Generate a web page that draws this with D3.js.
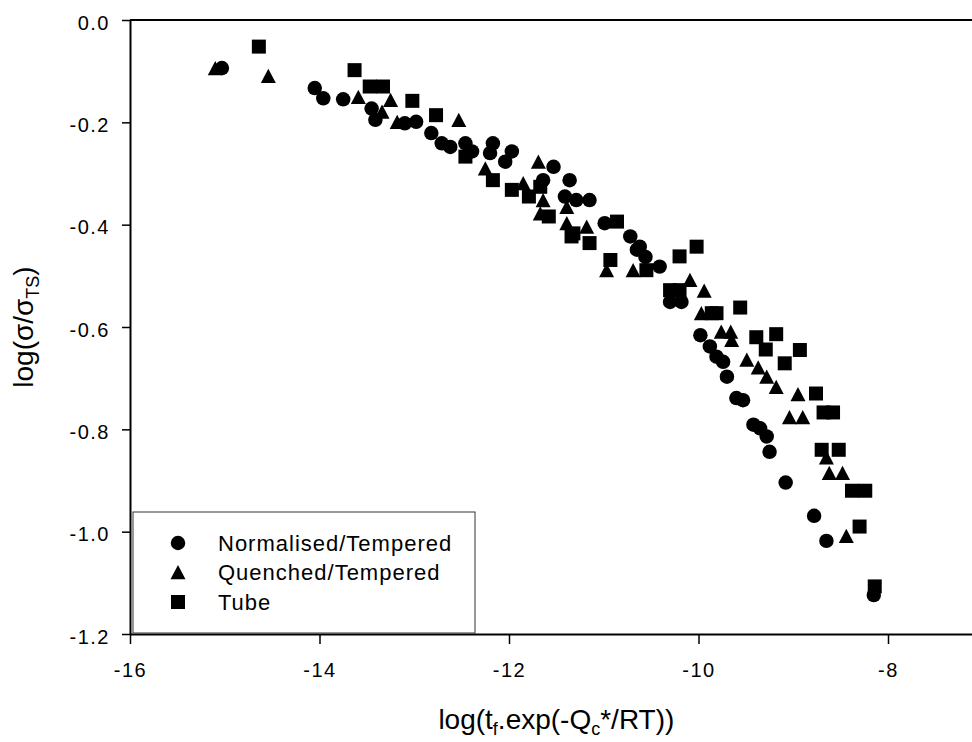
<!DOCTYPE html>
<html>
<head>
<meta charset="utf-8">
<script src="https://cdn.jsdelivr.net/npm/d3@7"></script>
<style>
  html, body { margin: 0; padding: 0; background: #fff; }
  svg { display: block; }
  text { font-family: Arial, "Liberation Sans", sans-serif; fill: #000; }
</style>
</head>
<body>
<svg id="chart" width="972" height="742"></svg>
<script>
// ---- data ----
const seriesNames = ["Normalised/Tempered", "Quenched/Tempered", "Tube"];

const normX = [-15.03,-14.05,-13.96,-13.75,-13.45,-13.41,-13.10,-12.98,-12.82,-12.71,-12.62,-12.46,-12.39,-12.17,-12.20,-11.97,-12.04,-11.53,-11.64,-11.36,-11.41,-11.29,-11.15,-10.99,-10.72,-10.65,-10.62,-10.56,-10.41,-10.30,-10.18,-9.98,-9.88,-9.81,-9.74,-9.70,-9.60,-9.53,-9.42,-9.35,-9.28,-9.25,-9.08,-8.78,-8.65,-8.15];
const normY = [-0.094,-0.133,-0.153,-0.155,-0.173,-0.195,-0.202,-0.199,-0.221,-0.241,-0.248,-0.241,-0.257,-0.241,-0.260,-0.257,-0.277,-0.287,-0.313,-0.313,-0.345,-0.352,-0.352,-0.397,-0.423,-0.449,-0.443,-0.463,-0.482,-0.551,-0.551,-0.616,-0.638,-0.658,-0.668,-0.697,-0.739,-0.743,-0.791,-0.798,-0.814,-0.844,-0.904,-0.969,-1.018,-1.124];

const quenX = [-15.10,-14.54,-13.59,-13.34,-13.25,-13.18,-12.53,-12.25,-11.69,-11.85,-11.64,-11.67,-11.39,-11.39,-11.18,-10.97,-10.69,-10.09,-9.94,-9.97,-9.76,-9.66,-9.65,-9.49,-9.37,-9.28,-9.18,-8.95,-9.04,-8.90,-8.65,-8.62,-8.48,-8.44];
const quenY = [-0.094,-0.109,-0.150,-0.179,-0.156,-0.199,-0.195,-0.290,-0.277,-0.319,-0.352,-0.378,-0.365,-0.397,-0.404,-0.489,-0.489,-0.508,-0.529,-0.573,-0.609,-0.609,-0.625,-0.664,-0.679,-0.697,-0.717,-0.731,-0.776,-0.776,-0.855,-0.885,-0.885,-1.008];

const tubeX = [-14.64,-13.63,-13.47,-13.33,-13.02,-12.77,-12.46,-12.17,-11.97,-11.79,-11.67,-11.58,-11.32,-11.34,-11.15,-10.86,-10.93,-10.55,-10.30,-10.20,-10.20,-10.02,-9.86,-9.81,-9.56,-9.39,-9.18,-9.29,-8.93,-9.09,-8.76,-8.68,-8.58,-8.70,-8.52,-8.38,-8.24,-8.30,-8.14];
const tubeY = [-0.052,-0.098,-0.130,-0.130,-0.158,-0.186,-0.267,-0.313,-0.332,-0.345,-0.326,-0.384,-0.417,-0.423,-0.436,-0.394,-0.469,-0.489,-0.528,-0.528,-0.462,-0.443,-0.573,-0.573,-0.562,-0.620,-0.614,-0.644,-0.645,-0.671,-0.730,-0.767,-0.767,-0.840,-0.840,-0.920,-0.920,-0.990,-1.107];

const xTicks = [-16, -14, -12, -10, -8];
const xTickLabels = ["-16", "-14", "-12", "-10", "-8"];
const yTicks = [0, -0.2, -0.4, -0.6, -0.8, -1.0, -1.2];
const yTickLabels = ["0.0", "-0.2", "-0.4", "-0.6", "-0.8", "-1.0", "-1.2"];

// ---- layout ----
const svg = d3.select("#chart");
const x = d3.scaleLinear().domain([-16, -7]).range([130, 982.75]);
const y = d3.scaleLinear().domain([-1.2, 0]).range([634, 20]);
const xEndVal = x.invert(972);

// top frame line
svg.append("line")
  .attr("x1", x(-16)).attr("x2", x(xEndVal))
  .attr("y1", y(0)).attr("y2", y(0))
  .attr("stroke", "#000").attr("stroke-width", 2);

// x axis
const xAxis = d3.axisBottom(d3.scaleLinear().domain([-16, xEndVal]).range([130, 972]))
  .tickValues(xTicks).tickFormat((d, i) => xTickLabels[i])
  .tickSizeInner(10).tickSizeOuter(0).tickPadding(19);
const gx = svg.append("g").attr("transform", `translate(0,${y(-1.2)})`).call(xAxis);
gx.select(".domain").attr("stroke", "#000").attr("stroke-width", 2);
gx.selectAll(".tick line").attr("stroke", "#000").attr("stroke-width", 1.5);
gx.selectAll(".tick text").attr("font-size", 20).attr("letter-spacing", "1.5px")
  .attr("font-family", 'Arial, "Liberation Sans", sans-serif').attr("fill", "#000");

// y axis
const yAxis = d3.axisLeft(y).tickValues(yTicks).tickFormat((d, i) => yTickLabels[i])
  .tickSizeInner(8).tickSizeOuter(0).tickPadding(12);
const gy = svg.append("g").attr("transform", `translate(${x(-16)},0)`).call(yAxis);
gy.select(".domain").attr("stroke", "#000").attr("stroke-width", 2);
gy.selectAll(".tick line").attr("stroke", "#000").attr("stroke-width", 1.5);
gy.selectAll(".tick text").attr("font-size", 20).attr("letter-spacing", "1.5px")
  .attr("dy", "0.46em")
  .attr("font-family", 'Arial, "Liberation Sans", sans-serif').attr("fill", "#000");

// axis titles
const xt = svg.append("text").attr("x", x(-11.5)).attr("y", 729)
  .attr("text-anchor", "middle").attr("font-size", 28);
xt.append("tspan").text("log(t");
xt.append("tspan").text("f").attr("font-size", 18).attr("dy", 6);
xt.append("tspan").text(".exp(-Q").attr("dy", -6);
xt.append("tspan").text("c").attr("font-size", 18).attr("dy", 6);
xt.append("tspan").text("*/RT))").attr("dy", -6);

const yt = svg.append("text")
  .attr("transform", `translate(33,${(y(0) + y(-1.2)) / 2}) rotate(-90)`)
  .attr("text-anchor", "middle").attr("font-size", 28);
yt.append("tspan").text("log(σ/σ");
yt.append("tspan").text("TS").attr("font-size", 18).attr("dy", 6);
yt.append("tspan").text(")").attr("dy", -6);

// symbols
const triangleType = {
  draw(ctx, size) {
    const s = Math.sqrt(size), h = s * 0.95;
    ctx.moveTo(0, -h / 2); ctx.lineTo(s / 2, h / 2); ctx.lineTo(-s / 2, h / 2); ctx.closePath();
  }
};
const shapes = [
  d3.symbol().type(d3.symbolCircle).size(165),
  d3.symbol().type(triangleType).size(225),
  d3.symbol().type(d3.symbolSquare).size(196)
];
const series = [
  normX.map((v, i) => [v, normY[i]]),
  quenX.map((v, i) => [v, quenY[i]]),
  tubeX.map((v, i) => [v, tubeY[i]])
];

series.forEach((pts, si) => {
  svg.append("g").selectAll("path").data(pts).join("path")
    .attr("d", shapes[si])
    .attr("transform", d => `translate(${x(d[0])},${y(d[1])})`)
    .attr("fill", "#000");
});

// legend
const lg = svg.append("g");
lg.append("rect").attr("x", 133).attr("y", 512).attr("width", 342).attr("height", 121)
  .attr("fill", "#fff").attr("stroke", "#333").attr("stroke-width", 1);
const legendRows = [543, 572, 602];
seriesNames.forEach((name, i) => {
  lg.append("path").attr("d", shapes[i]).attr("transform", `translate(178,${legendRows[i]})`).attr("fill", "#000");
  lg.append("text").attr("x", 218).attr("y", legendRows[i] + 8)
    .attr("font-size", 22).attr("letter-spacing", "1px").text(name);
});
</script>
</body>
</html>
